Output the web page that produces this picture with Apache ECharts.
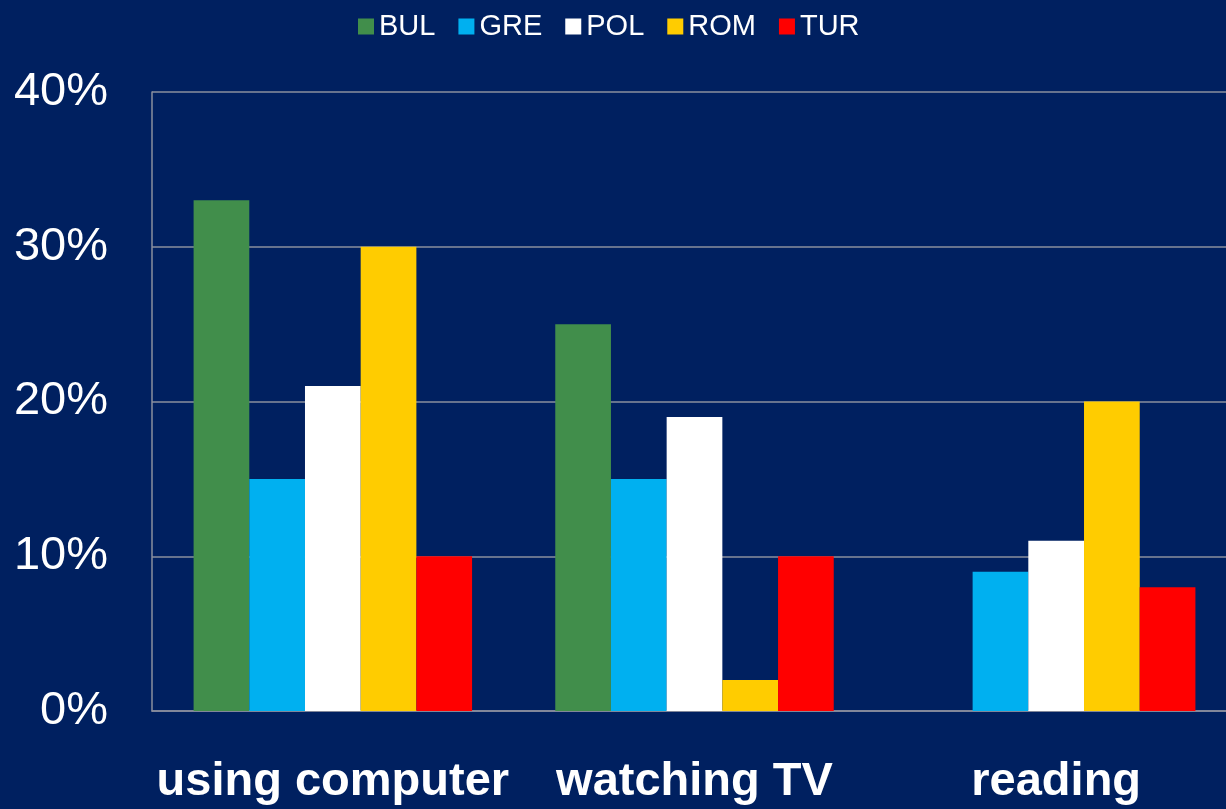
<!DOCTYPE html>
<html lang="en">
<head>
  <meta charset="UTF-8">
  <title>Activities</title>
  <style>
    html, body { margin: 0; padding: 0; background: #002060; overflow: hidden; }
    #main { width: 1237px; height: 809px; }
  </style>
</head>
<body>
  <div id="main"></div>
  <script src="https://cdn.jsdelivr.net/npm/echarts@6/dist/echarts.min.js"></script>
  <script>
    var categories = ['using computer', 'watching TV', 'reading'];
    var countries = ['BUL', 'GRE', 'POL', 'ROM', 'TUR'];
    var colors = ['#418E4B', '#00B0F0', '#FFFFFF', '#FFCC00', '#FF0000'];
    // percent values per country, one per category
    var bul = [33, 25, null];
    var gre = [15, 15, 9];
    var pol = [21, 19, 11];
    var rom = [30, 2, 20];
    var tur = [10, 10, 8];
    var values = [bul, gre, pol, rom, tur];

    var myChart = echarts.init(document.getElementById('main'));

    var series = countries.map(function (name, i) {
      return {
        name: name,
        type: 'bar',
        data: values[i],
        barGap: '0%',
        barCategoryGap: '23%',
        itemStyle: { color: colors[i] }
      };
    });

    var option = {
      backgroundColor: '#002060',
      textStyle: { fontFamily: 'Liberation Sans, Arial, sans-serif' },
      legend: {
        data: countries,
        left: 353,
        top: 7,
        itemWidth: 16,
        itemHeight: 16,
        itemGap: 23,
        icon: 'rect',
        textStyle: { color: '#ffffff', fontSize: 29 }
      },
      grid: {
        left: 152,
        right: 0,
        top: 92,
        bottom: 98,
        containLabel: false
      },
      xAxis: {
        type: 'category',
        data: categories,
        axisTick: { show: false },
        axisLine: { lineStyle: { color: '#8a8f9e', width: 1.5 } },
        axisLabel: {
          color: '#ffffff',
          fontSize: 47,
          fontWeight: 'bold',
          interval: 0,
          margin: 48
        }
      },
      yAxis: {
        type: 'value',
        min: 0,
        max: 40,
        interval: 10,
        axisLine: { show: true, lineStyle: { color: '#8a8f9e', width: 1.5 } },
        axisTick: { show: false },
        splitLine: { lineStyle: { color: '#8a8f9e', width: 1.5 } },
        axisLabel: {
          color: '#ffffff',
          fontSize: 47,
          margin: 44,
          formatter: '{value}%'
        }
      },
      series: series
    };

    myChart.setOption(option);
  </script>
</body>
</html>
